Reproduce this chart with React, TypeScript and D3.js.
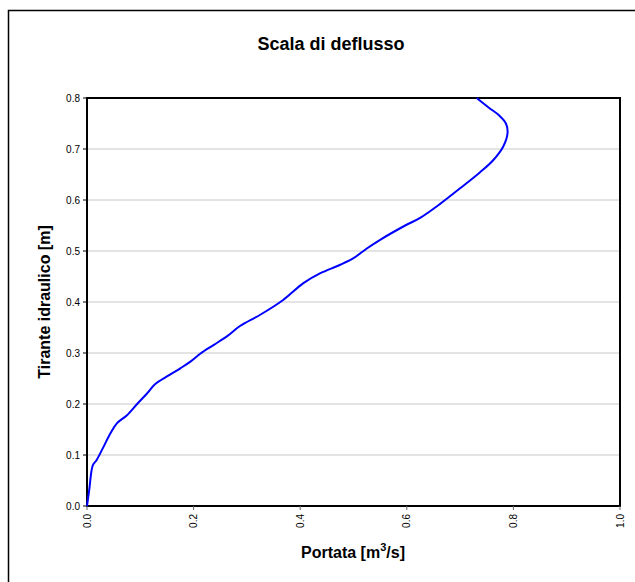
import React, { useEffect, useRef } from "react";
import * as d3 from "d3";

const title = "Scala di deflusso";
const yLabel = "Tirante idraulico [m]";
const portata = [0, 0.004, 0.011, 0.018, 0.031, 0.044, 0.056, 0.075, 0.094, 0.113, 0.128, 0.15, 0.175, 0.194, 0.213, 0.238, 0.263, 0.287, 0.325, 0.368, 0.406, 0.437, 0.475, 0.5, 0.525, 0.55, 0.597, 0.625, 0.662, 0.7, 0.737, 0.762, 0.781, 0.789, 0.786, 0.773, 0.754, 0.731];
const tirante = [0, 0.03, 0.08, 0.09, 0.116, 0.1425, 0.162, 0.178, 0.2, 0.221, 0.239, 0.254, 0.27, 0.283, 0.299, 0.316, 0.333, 0.353, 0.375, 0.404, 0.437, 0.456, 0.473, 0.486, 0.505, 0.522, 0.55, 0.565, 0.592, 0.623, 0.654, 0.678, 0.705, 0.731, 0.75, 0.766, 0.781, 0.8];
const yTicks = [0, 0.1, 0.2, 0.3, 0.4, 0.5, 0.6, 0.7, 0.8];
const xTicks = [0, 0.2, 0.4, 0.6, 0.8, 1.0];

export default function App() {
  const ref = useRef<SVGSVGElement>(null);
  useEffect(() => {
    const svg = d3.select(ref.current);
    svg.selectAll("*").remove();
    const L = 87, R = 620, T = 98, B = 506;
    const x = d3.scaleLinear().domain([0, 1]).range([L, R]);
    const y = d3.scaleLinear().domain([0, 0.8]).range([B, T]);
    const font = "Arial, 'Liberation Sans', sans-serif";

    svg.append("rect").attr("x", 0).attr("y", 0).attr("width", 635).attr("height", 582).attr("fill", "#fff");
    svg.append("rect").attr("x", 8.5).attr("y", 10.5).attr("width", 700).attr("height", 700)
      .attr("fill", "none").attr("stroke", "#000").attr("stroke-width", 1.5);

    // gridlines
    svg.append("g").selectAll("line").data(yTicks.filter(d => d > 0 && d < 0.8)).join("line")
      .attr("x1", L).attr("x2", R).attr("y1", d => y(d)).attr("y2", d => y(d))
      .attr("stroke", "#c8c8c8").attr("stroke-width", 1);

    // plot border
    svg.append("rect").attr("x", L).attr("y", T).attr("width", R - L).attr("height", B - T)
      .attr("fill", "none").attr("stroke", "#000").attr("stroke-width", 2);

    // y ticks
    const gy = svg.append("g");
    gy.selectAll("line").data(yTicks).join("line")
      .attr("x1", L - 4).attr("x2", L).attr("y1", d => y(d)).attr("y2", d => y(d))
      .attr("stroke", "#000").attr("stroke-width", 1);
    gy.selectAll("text").data(yTicks).join("text")
      .attr("x", L - 7).attr("y", d => y(d)).attr("dy", "0.35em")
      .attr("text-anchor", "end").attr("font-family", font).attr("font-size", 10)
      .text(d => d3.format(".1f")(d));

    // x ticks
    const gx = svg.append("g");
    gx.selectAll("line").data(xTicks).join("line")
      .attr("x1", d => x(d)).attr("x2", d => x(d)).attr("y1", B).attr("y2", B + 4)
      .attr("stroke", "#666").attr("stroke-width", 1);
    gx.selectAll("text").data(xTicks).join("text")
      .attr("transform", d => `translate(${x(d)},${B + 8}) rotate(-90)`)
      .attr("dy", "0.35em")
      .attr("text-anchor", "end").attr("font-family", font).attr("font-size", 10)
      .text(d => d3.format(".1f")(d));

    // curve
    const pts = portata.map((q, i) => [q, tirante[i]] as [number, number]);
    const line = d3.line<[number, number]>().x(d => x(d[0])).y(d => y(d[1])).curve(d3.curveCatmullRom.alpha(0.5));
    svg.append("path").datum(pts).attr("d", line).attr("fill", "none")
      .attr("stroke", "#0000ff").attr("stroke-width", 2);

    // title
    svg.append("text").attr("x", 331).attr("y", 50).attr("text-anchor", "middle")
      .attr("font-family", font).attr("font-weight", "bold").attr("font-size", 18).text(title);

    // y label
    svg.append("text").attr("transform", `translate(50,${(T + B) / 2}) rotate(-90)`)
      .attr("text-anchor", "middle").attr("font-family", font).attr("font-weight", "bold").attr("font-size", 16)
      .text(yLabel);

    // x label
    const xl = svg.append("text").attr("x", 353).attr("y", 558).attr("text-anchor", "middle")
      .attr("font-family", font).attr("font-weight", "bold").attr("font-size", 16);
    xl.append("tspan").text("Portata [m");
    xl.append("tspan").attr("dy", -7).attr("font-size", 11).text("3");
    xl.append("tspan").attr("dy", 7).text("/s]");
  }, []);
  return (
    <svg ref={ref} width={635} height={582} style={{ position: "absolute", left: 0, top: 0, display: "block" }} />
  );
}
